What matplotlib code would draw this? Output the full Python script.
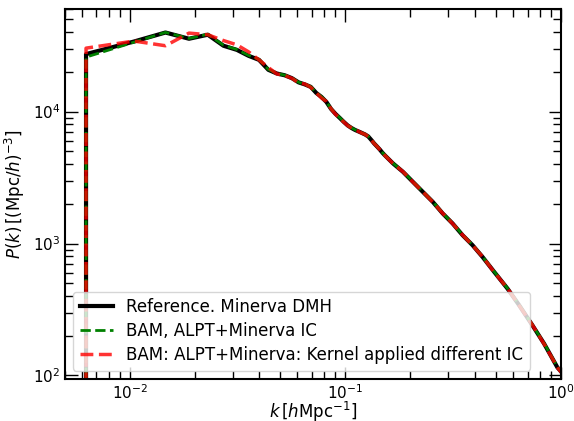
import numpy as np
import matplotlib.pyplot as plt

# wavenumber bins and power spectra
k_ref = [0.00628, 0.00628, 0.01047, 0.01466, 0.01885, 0.02304, 0.02723, 0.03142,
         0.03560, 0.03979, 0.04398, 0.04817, 0.05236, 0.05655, 0.06074, 0.06493,
         0.06912, 0.07330, 0.07749, 0.08168, 0.08587, 0.09006, 0.09425, 0.09844,
         0.1026, 0.1068, 0.1110, 0.1152, 0.1194, 0.1236, 0.1278, 0.1320, 0.1361,
         0.1403, 0.1445, 0.1487, 0.1529, 0.1662, 0.1849, 0.2056, 0.2286, 0.2543,
         0.2828, 0.3144, 0.3498, 0.3890, 0.4327, 0.4906, 0.565, 0.640, 0.738,
         0.835, 0.962, 1.0]

pk_ref = [1.0, 27300, 34000, 39800, 35700, 38300, 31600, 29400,
          26500, 24700, 20750, 19450, 18870, 17940, 16670, 16090,
          15410, 13870, 12930, 11850, 10480, 9610, 8956, 8350,
          7855, 7517, 7261, 7074, 6890, 6710, 6480, 6095, 5732,
          5439, 5161, 4875, 4645, 4055, 3500, 2938, 2466, 2071,
          1690, 1419, 1156, 971, 791, 608, 455, 340, 239,
          174, 115, 107]

pk_bam = [1.0, 25900, 33600, 39900, 35900, 38600, 31900, 29600,
          26700, 24900, 20900, 19500, 18900, 18000, 16700, 16100,
          15500, 13900, 13000, 11900, 10500, 9650, 9000, 8380,
          7880, 7540, 7280, 7090, 6900, 6720, 6500, 6110, 5750,
          5450, 5170, 4890, 4660, 4070, 3510, 2950, 2475, 2080,
          1695, 1425, 1160, 975, 795, 611, 457, 342, 240,
          175, 116, 108]

pk_kernel = [1.0, 30300, 34300, 31600, 39400, 38300, 34600, 32100,
             28400, 24700, 21600, 19300, 18800, 17900, 16500, 16200,
             15300, 13900, 12700, 11950, 10500, 9550, 8900, 8330,
             7830, 7530, 7240, 7080, 6870, 6720, 6460, 6100, 5720,
             5450, 5150, 4880, 4640, 4050, 3510, 2930, 2470, 2065,
             1695, 1415, 1160, 968, 795, 605, 457, 338, 240,
             173, 115, 106]

labels = ["Reference. Minerva DMH",
          "BAM, ALPT+Minerva IC",
          "BAM: ALPT+Minerva: Kernel applied different IC"]

fig = plt.figure(figsize=(5.74, 4.21), dpi=100)
ax = fig.add_axes([0.1127, 0.0998, 0.8647, 0.8788])

ax.plot(k_ref, pk_ref, color="black", lw=3, label=labels[0])
ax.plot(k_ref, pk_bam, color="green", ls="--", lw=2, label=labels[1])
ax.plot(k_ref, pk_kernel, color="red", ls="--", lw=2.5, alpha=0.8, label=labels[2])

ax.set_xscale("log")
ax.set_yscale("log")
ax.set_xlim(0.005, 1.0)
ax.set_ylim(94, 6.0e4)

ax.set_xlabel(r"$k\,[h\mathrm{Mpc}^{-1}]$", fontsize=12, labelpad=-1.5)
ax.set_ylabel(r"$P(k)\,[(\mathrm{Mpc}/h)^{-3}]$", fontsize=12)

ax.tick_params(which="both", direction="in", top=True, right=True, labelsize=11, pad=3)
ax.tick_params(which="major", length=9, width=1)
ax.tick_params(which="minor", length=5.5, width=1)
for s in ax.spines.values():
    s.set_linewidth(1.5)

ax.legend(loc="lower left", fontsize=12, framealpha=0.8, labelspacing=0.35)

fig.savefig("out.png", dpi=100)
